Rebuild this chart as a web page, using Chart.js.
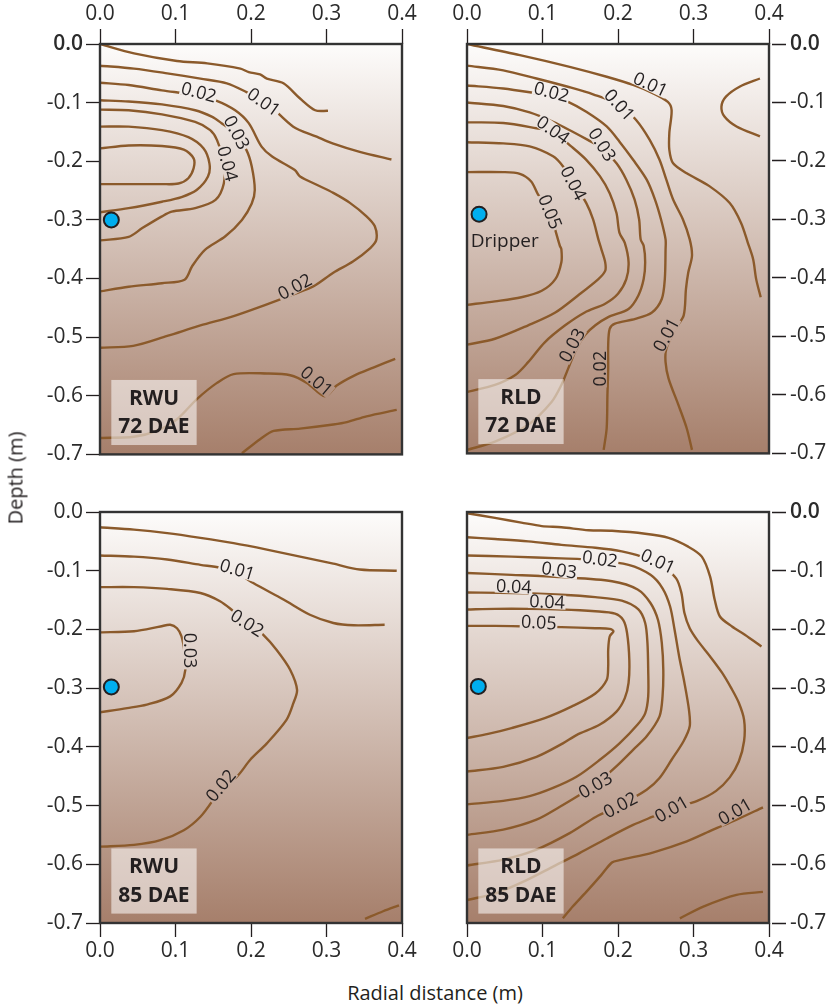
<!DOCTYPE html>
<html>
<head>
<meta charset="utf-8">
<title>RWU and RLD contours</title>
<script src="https://cdn.jsdelivr.net/npm/chart.js@4.4.1/dist/chart.umd.min.js"></script>
<style>
  html, body { margin: 0; padding: 0; background: #fff; }
  body { position: relative; width: 830px; height: 1006px; overflow: hidden; font-family: "Open Sans", sans-serif; color: #231f20; }
  canvas { position: absolute; }
  .axis-title { position: absolute; font-size: 20px; white-space: nowrap; }
</style>
</head>
<body>
<canvas id="rwu72" width="422" height="470" style="left:0;top:0;width:422px;height:470px"></canvas>
<canvas id="rld72" width="383" height="470" style="left:447px;top:0;width:383px;height:470px"></canvas>
<canvas id="rwu85" width="422" height="475" style="left:0;top:492px;width:422px;height:475px"></canvas>
<canvas id="rld85" width="383" height="475" style="left:447px;top:492px;width:383px;height:475px"></canvas>
<div class="axis-title" style="left:15px;top:478px;transform:translate(-50%,-50%) rotate(-90deg)">Depth (m)</div>
<div class="axis-title" style="left:435px;top:992px;transform:translate(-50%,-50%)">Radial distance (m)</div>
<script>
// contour lines, [radial distance (m), depth (m)]

// RWU 72 DAE
const tlA = [[0,0],[0.045,-0.016],[0.102,-0.029],[0.142,-0.033],[0.186,-0.042],[0.197,-0.048],[0.212,-0.052],[0.221,-0.059],[0.243,-0.067],[0.265,-0.093],[0.285,-0.113],[0.302,-0.114]];
const tlB = [[0,-0.037],[0.045,-0.042],[0.089,-0.050],[0.133,-0.059],[0.168,-0.067],[0.194,-0.082],[0.221,-0.101],[0.256,-0.141],[0.287,-0.158],[0.309,-0.170],[0.344,-0.184],[0.386,-0.197]];
const tlC = [[0,-0.066],[0.038,-0.070],[0.082,-0.079],[0.126,-0.087],[0.153,-0.096],[0.179,-0.113],[0.197,-0.135],[0.214,-0.175],[0.228,-0.192],[0.258,-0.215],[0.265,-0.226],[0.287,-0.240],[0.309,-0.254],[0.331,-0.271],[0.353,-0.294],[0.364,-0.311],[0.366,-0.334],[0.358,-0.348],[0.335,-0.371],[0.309,-0.390],[0.283,-0.413],[0.256,-0.427],[0.221,-0.444],[0.177,-0.464],[0.133,-0.480],[0.089,-0.498],[0.044,-0.515],[0,-0.518]];
const tlD = [[0,-0.096],[0.038,-0.098],[0.082,-0.103],[0.126,-0.113],[0.148,-0.124],[0.161,-0.135],[0.179,-0.152],[0.194,-0.181],[0.201,-0.209],[0.205,-0.249],[0.201,-0.272],[0.188,-0.300],[0.166,-0.328],[0.139,-0.351],[0.122,-0.379],[0.112,-0.402],[0.082,-0.408],[0.038,-0.414],[0,-0.422]];
const tlE = [[0,-0.112],[0.038,-0.113],[0.082,-0.120],[0.126,-0.133],[0.146,-0.147],[0.155,-0.164],[0.164,-0.204],[0.164,-0.238],[0.153,-0.266],[0.126,-0.280],[0.095,-0.286],[0.082,-0.294],[0.056,-0.314],[0.038,-0.329],[0,-0.335]];
const tlF = [[0,-0.141],[0.038,-0.141],[0.082,-0.147],[0.117,-0.159],[0.137,-0.178],[0.145,-0.204],[0.143,-0.226],[0.128,-0.249],[0.108,-0.261],[0.082,-0.269],[0.038,-0.280],[0,-0.287]];
const tlG = [[0,-0.178],[0.038,-0.173],[0.082,-0.174],[0.111,-0.180],[0.124,-0.195],[0.124,-0.212],[0.117,-0.229],[0.104,-0.238],[0.082,-0.239],[0.038,-0.239],[0,-0.239]];
const tlH = [[0,-0.672],[0.045,-0.670],[0.075,-0.660],[0.102,-0.640],[0.128,-0.606],[0.155,-0.578],[0.177,-0.563],[0.221,-0.562],[0.252,-0.565],[0.274,-0.578],[0.298,-0.601],[0.313,-0.583],[0.336,-0.566],[0.362,-0.552],[0.391,-0.537]];
const tlI = [[0.188,-0.698],[0.212,-0.674],[0.230,-0.660],[0.265,-0.656],[0.309,-0.649],[0.327,-0.645],[0.353,-0.635],[0.393,-0.624]];
const tlNotes = [['0.02',0.131,-0.082,15],['0.01',0.217,-0.099,35],['0.03',0.181,-0.151,62],['0.04',0.169,-0.204,75],['0.02',0.258,-0.414,-28],['0.01',0.287,-0.575,40]];
const tlDripper = [[0.015,-0.300]];

// RLD 72 DAE
const trA = [[0,0],[0.070,-0.019],[0.136,-0.039],[0.185,-0.056],[0.220,-0.070],[0.246,-0.084],[0.266,-0.099],[0.271,-0.113],[0.268,-0.152],[0.268,-0.181],[0.273,-0.204],[0.291,-0.221],[0.321,-0.243],[0.348,-0.272],[0.363,-0.306],[0.372,-0.340],[0.379,-0.368],[0.383,-0.402],[0.389,-0.433]];
const trArc = [[0.388,-0.059],[0.361,-0.073],[0.343,-0.090],[0.337,-0.107],[0.341,-0.124],[0.357,-0.141],[0.388,-0.158]];
const trB = [[0,-0.037],[0.048,-0.045],[0.092,-0.059],[0.136,-0.074],[0.167,-0.086],[0.202,-0.104],[0.224,-0.130],[0.242,-0.164],[0.255,-0.198],[0.264,-0.232],[0.273,-0.266],[0.286,-0.300],[0.295,-0.334],[0.298,-0.362],[0.293,-0.391],[0.290,-0.419],[0.287,-0.464],[0.276,-0.487],[0.264,-0.521],[0.263,-0.544],[0.267,-0.572],[0.280,-0.617],[0.291,-0.657],[0.298,-0.694]];
const trC = [[0,-0.071],[0.048,-0.076],[0.090,-0.084],[0.112,-0.089],[0.134,-0.099],[0.158,-0.116],[0.185,-0.141],[0.202,-0.167],[0.220,-0.198],[0.238,-0.232],[0.249,-0.266],[0.257,-0.300],[0.263,-0.334],[0.263,-0.351],[0.262,-0.402],[0.258,-0.436],[0.245,-0.459],[0.223,-0.470],[0.196,-0.478],[0.189,-0.487],[0.187,-0.515],[0.187,-0.555],[0.186,-0.600],[0.185,-0.657],[0.181,-0.694]];
const trD = [[0,-0.100],[0.048,-0.106],[0.083,-0.117],[0.114,-0.133],[0.140,-0.150],[0.160,-0.164],[0.179,-0.178],[0.198,-0.204],[0.211,-0.232],[0.222,-0.266],[0.228,-0.300],[0.230,-0.334],[0.234,-0.345],[0.236,-0.373],[0.234,-0.402],[0.227,-0.430],[0.214,-0.453],[0.187,-0.467],[0.170,-0.481],[0.156,-0.498],[0.145,-0.521],[0.134,-0.555],[0.125,-0.583],[0.112,-0.612],[0.081,-0.651],[0.037,-0.680],[0,-0.694]];
const trE = [[0,-0.134],[0.048,-0.135],[0.092,-0.144],[0.114,-0.150],[0.138,-0.175],[0.158,-0.198],[0.176,-0.226],[0.189,-0.255],[0.198,-0.289],[0.202,-0.323],[0.209,-0.340],[0.214,-0.373],[0.211,-0.402],[0.200,-0.427],[0.183,-0.444],[0.156,-0.459],[0.130,-0.481],[0.103,-0.510],[0.081,-0.544],[0.064,-0.566],[0.037,-0.583],[0,-0.595]];
const trF = [[0,-0.168],[0.048,-0.170],[0.083,-0.175],[0.114,-0.192],[0.127,-0.209],[0.141,-0.238],[0.158,-0.272],[0.167,-0.300],[0.174,-0.334],[0.178,-0.351],[0.183,-0.373],[0.183,-0.388],[0.174,-0.402],[0.147,-0.430],[0.117,-0.459],[0.081,-0.481],[0.037,-0.504],[0,-0.514]];
const trG = [[0,-0.219],[0.048,-0.219],[0.070,-0.222],[0.085,-0.235],[0.094,-0.257],[0.110,-0.287],[0.118,-0.323],[0.123,-0.345],[0.125,-0.351],[0.125,-0.373],[0.117,-0.402],[0.099,-0.422],[0.072,-0.433],[0.037,-0.440],[0,-0.446]];
const trNotes = [['0.01',0.243,-0.069,25],['0.01',0.202,-0.104,48],['0.02',0.112,-0.082,15],['0.03',0.179,-0.172,58],['0.04',0.114,-0.147,35],['0.04',0.141,-0.238,62],['0.05',0.110,-0.287,68],['0.03',0.139,-0.515,-62],['0.02',0.176,-0.555,-90],['0.01',0.264,-0.497,-62]];
const trDripper = [[0.016,-0.291]];

// RWU 85 DAE
const blA = [[0,-0.026],[0.045,-0.030],[0.089,-0.036],[0.133,-0.044],[0.177,-0.053],[0.221,-0.064],[0.265,-0.076],[0.309,-0.088],[0.344,-0.098],[0.393,-0.100]];
const blB = [[0,-0.074],[0.045,-0.076],[0.089,-0.081],[0.133,-0.090],[0.159,-0.095],[0.182,-0.104],[0.203,-0.121],[0.243,-0.149],[0.278,-0.175],[0.309,-0.189],[0.336,-0.193],[0.377,-0.192]];
const blC = [[0,-0.128],[0.045,-0.128],[0.089,-0.131],[0.133,-0.138],[0.159,-0.152],[0.177,-0.169],[0.197,-0.189],[0.216,-0.209],[0.234,-0.235],[0.252,-0.269],[0.261,-0.303],[0.256,-0.326],[0.247,-0.354],[0.221,-0.394],[0.199,-0.422],[0.181,-0.451],[0.161,-0.467],[0.150,-0.490],[0.133,-0.519],[0.111,-0.542],[0.080,-0.559],[0.045,-0.567],[0,-0.570]];
const blD = [[0,-0.205],[0.045,-0.203],[0.080,-0.195],[0.093,-0.192],[0.102,-0.198],[0.108,-0.212],[0.112,-0.240],[0.113,-0.269],[0.108,-0.291],[0.093,-0.314],[0.062,-0.328],[0.036,-0.334],[0,-0.341]];
const blE = [[0.351,-0.693],[0.375,-0.680],[0.396,-0.670]];
const blNotes = [['0.01',0.182,-0.098,17],['0.02',0.195,-0.189,32],['0.03',0.119,-0.236,90],['0.02',0.160,-0.466,-50]];
const blDripper = [[0.015,-0.298]];

// RLD 85 DAE
const brA = [[0,-0.002],[0.037,-0.010],[0.072,-0.018],[0.099,-0.024],[0.125,-0.026],[0.161,-0.031],[0.192,-0.032],[0.236,-0.037],[0.267,-0.044],[0.293,-0.059],[0.311,-0.076],[0.322,-0.110],[0.328,-0.149],[0.335,-0.178],[0.351,-0.195],[0.368,-0.209],[0.390,-0.229]];
const brB = [[0,-0.043],[0.037,-0.046],[0.081,-0.050],[0.125,-0.056],[0.170,-0.061],[0.205,-0.067],[0.231,-0.076],[0.258,-0.093],[0.277,-0.113],[0.284,-0.138],[0.288,-0.172],[0.295,-0.198],[0.306,-0.220],[0.322,-0.246],[0.338,-0.274],[0.350,-0.300],[0.360,-0.325],[0.367,-0.354],[0.367,-0.390],[0.360,-0.425],[0.348,-0.452],[0.330,-0.475],[0.305,-0.492],[0.271,-0.506],[0.246,-0.519],[0.220,-0.533],[0.185,-0.556],[0.149,-0.581],[0.114,-0.604],[0.079,-0.627],[0.039,-0.649],[0,-0.661]];
const brC = [[0,-0.074],[0.059,-0.076],[0.125,-0.079],[0.170,-0.082],[0.214,-0.090],[0.243,-0.107],[0.259,-0.130],[0.269,-0.161],[0.275,-0.201],[0.281,-0.246],[0.288,-0.291],[0.294,-0.337],[0.295,-0.365],[0.287,-0.390],[0.271,-0.422],[0.255,-0.453],[0.238,-0.473],[0.203,-0.499],[0.171,-0.519],[0.136,-0.547],[0.092,-0.575],[0.048,-0.592],[0,-0.602]];
const brD = [[0,-0.104],[0.059,-0.107],[0.125,-0.111],[0.192,-0.118],[0.226,-0.132],[0.243,-0.155],[0.253,-0.184],[0.258,-0.223],[0.260,-0.269],[0.259,-0.314],[0.255,-0.348],[0.238,-0.382],[0.220,-0.405],[0.202,-0.428],[0.185,-0.448],[0.170,-0.465],[0.149,-0.482],[0.123,-0.502],[0.092,-0.524],[0.048,-0.541],[0,-0.550]];
const brE = [[0,-0.137],[0.059,-0.138],[0.125,-0.141],[0.170,-0.145],[0.205,-0.151],[0.227,-0.166],[0.236,-0.189],[0.239,-0.223],[0.240,-0.269],[0.240,-0.314],[0.236,-0.343],[0.226,-0.362],[0.202,-0.394],[0.176,-0.422],[0.145,-0.451],[0.114,-0.470],[0.083,-0.484],[0.048,-0.492],[0,-0.498]];
const brF = [[0,-0.166],[0.037,-0.165],[0.081,-0.165],[0.125,-0.166],[0.170,-0.169],[0.196,-0.173],[0.207,-0.184],[0.212,-0.206],[0.215,-0.252],[0.214,-0.291],[0.209,-0.317],[0.198,-0.340],[0.176,-0.362],[0.145,-0.380],[0.127,-0.394],[0.092,-0.417],[0.048,-0.434],[0,-0.442]];
const brG = [[0,-0.194],[0.037,-0.194],[0.081,-0.195],[0.125,-0.196],[0.170,-0.198],[0.189,-0.199],[0.194,-0.203],[0.189,-0.212],[0.187,-0.235],[0.187,-0.263],[0.185,-0.286],[0.170,-0.309],[0.139,-0.331],[0.103,-0.351],[0.059,-0.368],[0.028,-0.378],[0,-0.385]];
const brH = [[0.392,-0.503],[0.357,-0.524],[0.326,-0.541],[0.291,-0.561],[0.246,-0.580],[0.202,-0.593],[0.192,-0.597],[0.178,-0.618],[0.158,-0.647],[0.140,-0.672],[0.127,-0.692]];
const brI = [[0.282,-0.692],[0.313,-0.672],[0.357,-0.652],[0.392,-0.647]];
const brNotes = [['0.02',0.176,-0.080,8],['0.01',0.253,-0.084,25],['0.03',0.122,-0.099,8],['0.04',0.062,-0.127,3],['0.04',0.106,-0.153,3],['0.05',0.095,-0.188,3],['0.03',0.170,-0.465,-30],['0.02',0.203,-0.499,-28],['0.01',0.271,-0.506,-30],['0.01',0.355,-0.510,-30]];
const brDripper = [[0.015,-0.297]];

const FONT = '"Open Sans", sans-serif';
const INK = '#231f20';
const LINE = '#8b5a2b';

Chart.defaults.font.family = FONT;
Chart.defaults.color = '#2b2b2b';

// soil background, contour labels, panel tag and frame
const soilPlugin = {
    id: 'soil',
    beforeDatasetsDraw(chart) {
        const { ctx, chartArea: a } = chart;
        const g = ctx.createLinearGradient(0, a.top, 0, a.bottom);
        g.addColorStop(0, '#fdfcfb');
        g.addColorStop(1, '#a67f6b');
        chart.$soil = g;
        ctx.save();
        ctx.fillStyle = g;
        ctx.fillRect(a.left, a.top, a.width, a.height);
        ctx.restore();
    },
    afterDatasetsDraw(chart, args, opts) {
        const { ctx, chartArea: a } = chart;
        const sx = chart.scales.x, sy = chart.scales.y;

        ctx.save();
        ctx.font = '18px ' + FONT;
        ctx.textAlign = 'center';
        ctx.textBaseline = 'middle';
        for (const [txt, x, y, deg] of opts.notes) {
            const px = sx.getPixelForValue(x), py = sy.getPixelForValue(y);
            const r = deg * Math.PI / 180, c = Math.cos(r), s = Math.sin(r);
            const hw = ctx.measureText(txt).width / 2 + 1, hh = 7;
            // knock the contour out behind the label
            ctx.beginPath();
            [[-hw, -hh], [hw, -hh], [hw, hh], [-hw, hh]].forEach(([u, v], i) => {
                const qx = px + u * c - v * s, qy = py + u * s + v * c;
                i ? ctx.lineTo(qx, qy) : ctx.moveTo(qx, qy);
            });
            ctx.closePath();
            ctx.fillStyle = chart.$soil;
            ctx.fill();
            ctx.save();
            ctx.translate(px, py);
            ctx.rotate(r);
            ctx.fillStyle = INK;
            ctx.fillText(txt, 0, 1);
            ctx.restore();
        }

        if (opts.dripperText) {
            const [txt, x, y] = opts.dripperText;
            ctx.font = '19px ' + FONT;
            ctx.fillStyle = INK;
            ctx.fillText(txt, sx.getPixelForValue(x), sy.getPixelForValue(y));
        }

        // panel tag
        const b = opts.tag;
        const x0 = sx.getPixelForValue(b.x0), x1 = sx.getPixelForValue(b.x1);
        const y0 = sy.getPixelForValue(b.y0), y1 = sy.getPixelForValue(b.y1);
        ctx.fillStyle = 'rgba(255,255,255,0.55)';
        ctx.fillRect(x0, y0, x1 - x0, y1 - y0);
        ctx.fillStyle = INK;
        ctx.font = 'bold 21px ' + FONT;
        const cx = (x0 + x1) / 2;
        ctx.fillText(b.text[0], cx, y0 + (y1 - y0) * 0.29);
        ctx.fillText(b.text[1], cx, y0 + (y1 - y0) * 0.73);

        ctx.strokeStyle = '#333';
        ctx.lineWidth = 2.4;
        ctx.strokeRect(a.left, a.top, a.width, a.height);
        ctx.restore();
    }
};

function makePanel(id, lines, notes, dripper, tagText, top, left, extra) {
    const datasets = [{
        data: dripper,
        showLine: false,
        pointRadius: 7.5,
        pointBackgroundColor: '#00aeef',
        pointBorderColor: INK,
        pointBorderWidth: 2
    }];
    lines.forEach(l => datasets.push({
        data: l,
        showLine: true,
        pointRadius: 0,
        borderColor: LINE,
        borderWidth: 2.4,
        tension: 0.3,
        fill: false
    }));

    const tickFont = c => ({
        size: 21,
        weight: (c.tick && c.tick.value === 0 && extra.boldZero) ? '600' : '400'
    });

    return new Chart(document.getElementById(id), {
        type: 'scatter',
        data: { datasets: datasets },
        options: {
            responsive: false,
            animation: false,
            devicePixelRatio: 1,
            events: [],
            layout: {
                padding: {
                    left: left ? 0 : 20,
                    right: left ? 20 : 0,
                    top: top ? 0 : 20,
                    bottom: top ? 15 : 0
                }
            },
            plugins: {
                legend: { display: false },
                tooltip: { enabled: false },
                soil: {
                    notes: notes,
                    dripperText: extra.dripperText,
                    tag: { x0: 0.015, x1: 0.128, y0: -0.573, y1: -0.684, text: tagText }
                }
            },
            scales: {
                x: {
                    type: 'linear',
                    position: top ? 'top' : 'bottom',
                    min: 0,
                    max: 0.4,
                    ticks: {
                        stepSize: 0.1,
                        autoSkip: false,
                        maxRotation: 0,
                        padding: top ? 2 : 1,
                        font: { size: 21 },
                        callback: v => v.toFixed(1)
                    },
                    grid: {
                        drawOnChartArea: false,
                        tickLength: top ? 15 : 14,
                        tickColor: INK,
                        tickWidth: 1.3
                    },
                    border: { display: false },
                    afterFit: s => { s.height = 44; }
                },
                y: {
                    type: 'linear',
                    position: left ? 'left' : 'right',
                    min: -0.7,
                    max: 0,
                    ticks: {
                        stepSize: 0.1,
                        autoSkip: false,
                        padding: left ? 3 : 4,
                        font: tickFont,
                        callback: v => v.toFixed(1)
                    },
                    grid: {
                        drawOnChartArea: false,
                        tickLength: left ? 14 : 17,
                        tickBorderDash: left ? [] : [0, 3, 14, 40],
                        tickColor: INK,
                        tickWidth: 1.3
                    },
                    border: { display: false },
                    afterFit: s => { s.width = left ? 100 : 61; }
                }
            }
        },
        plugins: [soilPlugin]
    });
}

makePanel('rwu72', [tlA, tlB, tlC, tlD, tlE, tlF, tlG, tlH, tlI], tlNotes, tlDripper,
    ['RWU', '72 DAE'], true, true, { boldZero: true });
makePanel('rld72', [trA, trArc, trB, trC, trD, trE, trF, trG], trNotes, trDripper,
    ['RLD', '72 DAE'], true, false, { boldZero: true, dripperText: ['Dripper', 0.050, -0.337] });
makePanel('rwu85', [blA, blB, blC, blD, blE], blNotes, blDripper,
    ['RWU', '85 DAE'], false, true, { boldZero: false });
makePanel('rld85', [brA, brB, brC, brD, brE, brF, brG, brH, brI], brNotes, brDripper,
    ['RLD', '85 DAE'], false, false, { boldZero: true });
</script>
</body>
</html>
